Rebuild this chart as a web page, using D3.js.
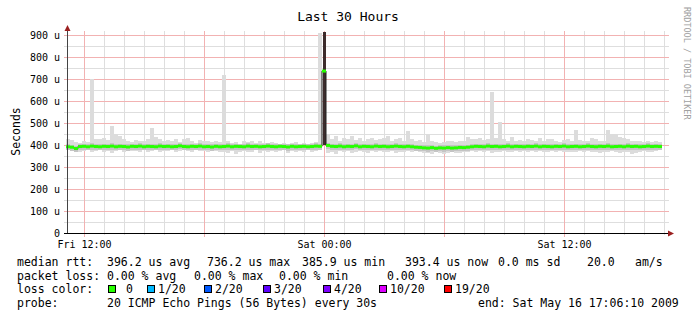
<!DOCTYPE html>
<html lang="en">
<head>
    <meta charset="UTF-8">
    <title>smokeping last 30 hours</title>
    <!-- Load d3.js -->
    <script src="https://d3js.org/d3.v7.min.js"></script>
    <style>
        body { margin: 0; background: #fff; }
        svg { display: block; font-family: "DejaVu Sans Mono", monospace; }
        text { white-space: pre; }
    </style>
</head>
<body>
<script>

    // time range of the graph and step of one smoke column (minutes)
    var start = new Date(2009, 4, 15, 11, 6, 10)
    var end = new Date(2009, 4, 16, 17, 6, 10)
    var stepMinutes = 12

    // highest ping of each step, microseconds
    var smokeHi = [
        428, 422, 414, 410, 418, 412, 700, 426, 428, 434,
        422, 488, 452, 440, 428, 418, 412, 424, 418, 416,
        428, 477, 436, 428, 420, 424, 418, 426, 412, 428,
        434, 418, 408, 424, 416, 420, 412, 418, 414,
        718, 418, 408, 414, 406, 418, 412, 416, 408, 420, 410,
        406, 414, 408, 404, 410, 406, 408, 414, 406, 408,
        404, 410, 414, 910, 915,
        448, 428, 440, 418, 434, 426, 440, 424, 430, 418, 428, 434, 422, 428,
        434, 440, 420, 426, 434, 416, 462, 428, 418, 424,
        412, 452, 418, 412, 408, 412, 416, 418, 412, 420, 418,
        438, 428, 426, 434, 422, 428, 642, 434, 506, 428, 420, 436, 418, 422, 416, 428, 424,
        418, 434, 420, 428, 426, 418, 412, 422, 428, 418,
        470, 422, 418, 420, 434, 428, 418, 416, 470, 448,
        452, 436, 434, 428, 418, 420, 416, 412, 418, 414, 416, 412
    ]

    // lowest ping of each step, microseconds
    var smokeLo = [
        376, 371, 378, 368, 374, 376, 366, 372, 378, 370,
        374, 364, 371, 376, 368, 378, 372, 374, 366, 376,
        370, 372, 378, 366, 374, 371, 376, 368, 374, 378,
        372, 366, 376, 371, 374, 368, 376, 372, 370,
        366, 364, 371, 361, 368, 374, 366, 370, 376, 364, 372,
        368, 374, 366, 371, 376, 364, 372, 368, 374, 370,
        376, 368, 372, 378, 400,
        364, 368, 361, 371, 366, 374, 362, 368, 372, 366, 364, 371, 368, 374,
        368, 366, 372, 364, 370, 368, 374, 366, 371, 368,
        362, 364, 358, 366, 362, 360, 364, 366, 362, 364, 368,
        368, 372, 366, 371, 368, 374, 364, 370, 368, 372, 366, 370, 374, 368, 372, 366, 371,
        368, 372, 366, 370, 374, 368, 372, 366, 370, 368,
        366, 371, 368, 374, 366, 370, 364, 368, 366, 372,
        368, 364, 366, 370, 361, 364, 368, 372, 366, 370, 374, 378
    ]

    // median rtt of each step, microseconds
    var median = [
        392, 390, 384, 393, 394, 392, 395, 393, 392, 394,
        393, 395, 392, 394, 393, 391, 394, 393, 395, 392,
        394, 393, 392, 395, 393, 394, 392, 393, 396, 393,
        392, 394, 393, 395, 392, 393, 391, 394, 392,
        393, 395, 392, 394, 393, 392, 395, 393, 394, 392, 393,
        395, 393, 392, 394, 393, 391, 394, 392, 393, 394,
        392, 393, 395, 394, 736,
        398, 394, 393, 395, 392, 394, 393, 396, 392, 394, 393, 392, 395, 393,
        394, 392, 393, 395, 393, 392, 394, 392, 390, 389,
        387, 386, 388, 385, 387, 386, 388, 386, 387, 389, 388,
        390, 392, 394, 393, 392, 395, 393, 394, 392, 393, 395, 392, 394, 393, 392, 394, 393,
        395, 392, 394, 393, 392, 394, 393, 395, 392, 393,
        394, 392, 393, 395, 393, 392, 394, 393, 395, 392,
        393, 394, 392, 395, 393, 394, 392, 393, 395, 393, 394, 393
    ]

    // steps where all pings were spread (dark smoke)
    var denseBins = [64]

    var yTicks = [0, 100, 200, 300, 400, 500, 600, 700, 800, 900]

    var lossLabels = [" 0", "1/20", "2/20", "3/20", "4/20", "10/20", "19/20"]
    var lossColors = ["#26ff00", "#00b8ff", "#0059ff", "#5e00ff", "#7e00ff", "#dd00ff", "#ff0000"]

    var rttLegend = ["median rtt:", "396.2 us avg", "736.2 us max", "385.9 us min", "393.4 us now", "0.0 ms sd", "20.0", "am/s"]
    var lossLegend = ["packet loss:", "0.00 % avg", "0.00 % max", "0.00 % min", "0.00 % now"]
    var probeLegend = ["probe:", "20 ICMP Echo Pings (56 Bytes) every 30s"]

    // ---------------------------------------------------------------
    var width = 697, height = 321
    var svg = d3.select("body").append("svg")
        .attr("width", width)
        .attr("height", height)

    var x = d3.scaleTime().domain([start, end]).range([66, 666])
    var y = d3.scaleLinear().domain([0, 900]).range([233, 35])

    function px(v) { return Math.round(v) + 0.5 }

    var bins = median.map(function (m, i) {
        return {
            t0: d3.timeMinute.offset(start, i * stepMinutes),
            t1: d3.timeMinute.offset(start, (i + 1) * stepMinutes),
            hi: smokeHi[i], lo: smokeLo[i], med: m,
            dense: denseBins.indexOf(i) >= 0
        }
    })

    // grid: minor every hour / 50 u, major every 6 hours / 100 u
    var hours = d3.timeHour.every(1).range(start, end)
    var hLines = d3.range(50, 901, 50)
    var grid = svg.append("g")
    grid.selectAll(".hminor").data(hLines.filter(function (v) { return v % 100 })).join("line")
        .attr("x1", 64).attr("x2", 669)
        .attr("y1", function (d) { return px(y(d)) }).attr("y2", function (d) { return px(y(d)) })
        .attr("stroke", "#dedede")
    grid.selectAll(".vminor").data(hours.filter(function (d) { return d.getHours() % 6 })).join("line")
        .attr("x1", function (d) { return px(x(d)) }).attr("x2", function (d) { return px(x(d)) })
        .attr("y1", 31).attr("y2", 235)
        .attr("stroke", "#dedede")
    grid.selectAll(".hmajor").data(hLines.filter(function (v) { return v % 100 == 0 })).join("line")
        .attr("x1", 64).attr("x2", 669)
        .attr("y1", function (d) { return px(y(d)) }).attr("y2", function (d) { return px(y(d)) })
        .attr("stroke", "#f2b2b2")
    grid.selectAll(".vmajor").data(hours.filter(function (d) { return d.getHours() % 6 == 0 })).join("line")
        .attr("x1", function (d) { return px(x(d)) }).attr("x2", function (d) { return px(x(d)) })
        .attr("y1", 31).attr("y2", 237)
        .attr("stroke", "#f2b2b2")

    // smoke
    svg.append("g").selectAll("rect").data(bins).join("rect")
        .attr("x", function (d) { return x(d.t0) + (d.dense ? 1 : 0) })
        .attr("width", function (d) { return x(d.t1) - x(d.t0) - (d.dense ? 1 : 0) })
        .attr("y", function (d) { return y(d.hi) })
        .attr("height", function (d) { return y(d.lo) - y(d.hi) })
        .attr("fill", function (d) { return d.dense ? "#3d2c2c" : "#dcdcdc" })
        .attr("shape-rendering", "crispEdges")

    // darker core of the smoke around the median
    svg.append("g").selectAll("rect").data(bins.filter(function (d) { return !d.dense })).join("rect")
        .attr("x", function (d) { return x(d.t0) })
        .attr("width", function (d) { return x(d.t1) - x(d.t0) })
        .attr("y", function (d) { return y(d.med + 12) })
        .attr("height", function (d) { return y(d.med - 16) - y(d.med + 12) })
        .attr("fill", "#c4c4c4")
        .attr("shape-rendering", "crispEdges")

    // median line (dark) and loss coloured band
    var medLine = d3.line()
        .x(function (d) { return x(d.t) })
        .y(function (d) { return y(d.v) })
        .curve(d3.curveStepAfter)
    var medPts = bins.map(function (d) { return { t: d.t0, v: d.med } })
    medPts.push({ t: bins[bins.length - 1].t1, v: bins[bins.length - 1].med })
    svg.append("path")
        .attr("d", medLine(medPts))
        .attr("fill", "none")
        .attr("stroke", "#202020")
        .attr("stroke-width", 1)

    svg.append("g").selectAll("rect").data(bins).join("rect")
        .attr("x", function (d) { return x(d.t0) })
        .attr("width", function (d) { return x(d.t1) - x(d.t0) })
        .attr("y", function (d) { return y(d.med) - 1.5 })
        .attr("height", 3)
        .attr("fill", lossColors[0])

    // axes
    svg.append("line")
        .attr("x1", 67.5).attr("x2", 67.5).attr("y1", 233).attr("y2", 29)
        .attr("stroke", "#444")
    svg.append("line")
        .attr("x1", 64).attr("x2", 670).attr("y1", 233.5).attr("y2", 233.5)
        .attr("stroke", "#000")
    svg.append("path").attr("d", "M64.5,31L70.5,31L67.5,25Z").attr("fill", "#9b2020")
    svg.append("path").attr("d", "M668,230.5L668,236.5L674,233.5Z").attr("fill", "#9b2020")

    // tick labels
    svg.append("g").selectAll("text").data(yTicks).join("text")
        .attr("x", 60)
        .attr("y", function (d) { return y(d) + 3.6 })
        .attr("text-anchor", "end")
        .attr("font-size", 10)
        .text(function (d) { return d == 0 ? "0" : d + " u" })

    var fmtTick = d3.timeFormat("%a %H:%M")
    svg.append("g").selectAll("text").data(d3.timeHour.every(12).range(start, end)).join("text")
        .attr("x", function (d) { return px(x(d)) })
        .attr("y", 248)
        .attr("text-anchor", "middle")
        .attr("font-size", 10)
        .text(function (d) { return fmtTick(d) })

    // titles
    svg.append("text")
        .attr("x", 348).attr("y", 20.5)
        .attr("text-anchor", "middle")
        .attr("font-size", 13)
        .text("Last 30 Hours")

    svg.append("text")
        .attr("transform", "translate(19.5,131.5) rotate(-90)")
        .attr("text-anchor", "middle")
        .attr("font-size", 11.5)
        .text("Seconds")

    svg.append("text")
        .attr("transform", "translate(683.5,7) rotate(90)")
        .attr("font-size", 8.5)
        .attr("fill", "#a0a0a0")
        .text("RRDTOOL / TOBI OETIKER")

    // legend
    var rowY = [265.8, 279.5, 293.2, 306.9]
    var rttX = [17, 107, 207, 302, 405, 498, 587, 635]
    var lossX = [17, 107, 194, 279, 387]
    var swatchX = [108, 147, 204, 263, 323, 379, 444]
    var legend = svg.append("g").attr("font-size", 11.5)

    legend.selectAll(".rtt").data(rttLegend).join("text")
        .attr("x", function (d, i) { return rttX[i] }).attr("y", rowY[0])
        .text(function (d) { return d })
    legend.selectAll(".loss").data(lossLegend).join("text")
        .attr("x", function (d, i) { return lossX[i] }).attr("y", rowY[1])
        .text(function (d) { return d })

    legend.append("text").attr("x", 17).attr("y", rowY[2]).text("loss color:")
    legend.selectAll(".swatch").data(lossColors).join("rect")
        .attr("x", function (d, i) { return swatchX[i] + 0.5 })
        .attr("y", 285.5)
        .attr("width", 7).attr("height", 7)
        .attr("fill", function (d) { return d })
        .attr("stroke", "#000")
    legend.selectAll(".swlabel").data(lossLabels).join("text")
        .attr("x", function (d, i) { return swatchX[i] + 11 })
        .attr("y", rowY[2])
        .text(function (d) { return d })

    legend.append("text").attr("x", 17).attr("y", rowY[3]).text(probeLegend[0])
    legend.append("text").attr("x", 107).attr("y", rowY[3]).text(probeLegend[1])
    legend.append("text").attr("x", 478).attr("y", rowY[3])
        .text("end: " + d3.timeFormat("%a %b %d %H:%M:%S %Y")(end))

</script>
</body>
</html>
